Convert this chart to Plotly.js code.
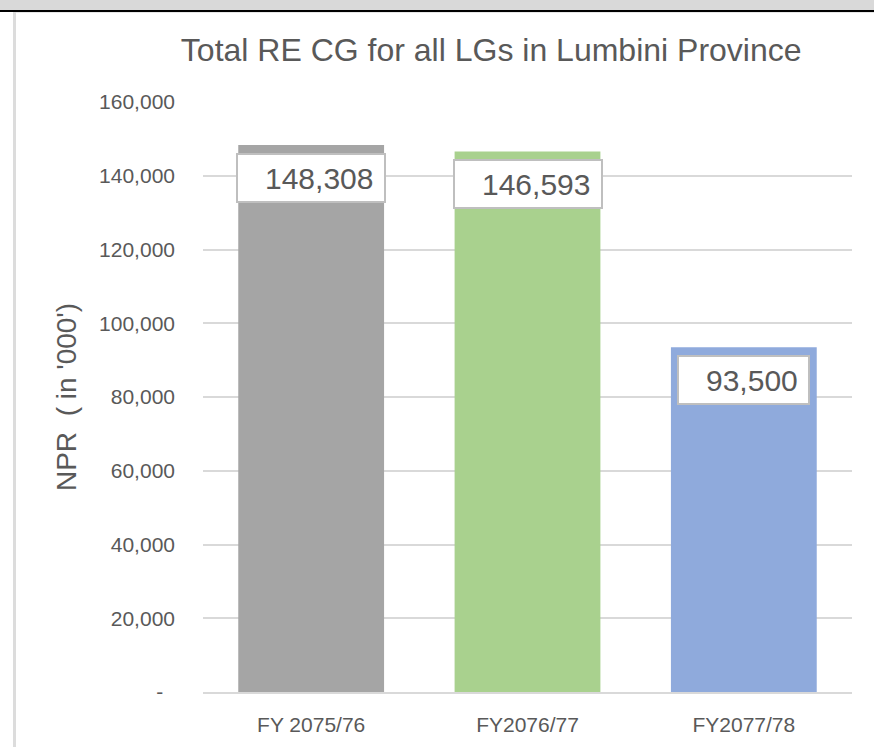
<!DOCTYPE html>
<html>
<head>
<meta charset="utf-8">
<script src="https://cdn.plot.ly/plotly-3.0.1.min.js"></script>
<style>
  html, body { margin: 0; padding: 0; background: #fff; }
  #wrap { position: relative; width: 874px; height: 747px; overflow: hidden; }
  #chart { position: absolute; left: 0; top: 0; width: 874px; height: 747px; }
  .band { position: absolute; left: 0; top: 0; width: 874px; height: 10px; background: #d9d9d9; }
  .rule { position: absolute; left: 0; top: 10px; width: 874px; height: 2px; background: #000; }
  .side { position: absolute; left: 13px; top: 12px; width: 3px; height: 735px; background: #dcdcdc; }
  .inner { position: absolute; left: 16px; top: 12px; width: 858px; height: 1px; background: #e6e6e6; }
</style>
</head>
<body>
<div id="wrap">
  <div id="chart"></div>
  <div class="band"></div>
  <div class="rule"></div>
  <div class="side"></div>
  <div class="inner"></div>
</div>
<script>
var years = ["FY 2075/76", "FY2076/77", "FY2077/78"];
var totals = [148308, 146593, 93500];
var barColors = ["#a5a5a5", "#a9d18e", "#8faadc"];
var tickVals = [0, 20000, 40000, 60000, 80000, 100000, 120000, 140000, 160000];
var tickText = ["-\u00a0\u00a0", "20,000", "40,000", "60,000", "80,000", "100,000", "120,000", "140,000", "160,000"];

var trace = {
    x: years,
    y: totals,
    type: "bar",
    marker: {color: barColors},
    hoverinfo: "none"
};

var labels = years.map(function (yr, i) {
    return {
        x: yr,
        y: totals[i],
        xref: "x",
        yref: "y",
        text: "\u00a0\u00a0\u00a0" + totals[i].toLocaleString("en-US") + "\u00a0",
        showarrow: false,
        yanchor: "top",
        yshift: -8,
        height: 42,
        bgcolor: "#ffffff",
        bordercolor: "#bfbfbf",
        borderwidth: 2,
        borderpad: 2,
        font: {family: "Liberation Sans, Arial, sans-serif", size: 30, color: "#595959"}
    };
});

var layout = {
    width: 874,
    height: 747,
    margin: {l: 203, r: 22, t: 102, b: 55},
    paper_bgcolor: "rgba(0,0,0,0)",
    plot_bgcolor: "#ffffff",
    showlegend: false,
    bargap: 0.326,
    title: {
        text: "Total RE CG for all LGs in Lumbini Province",
        font: {family: "Liberation Sans, Arial, sans-serif", size: 32, color: "#595959"},
        xref: "container",
        yref: "container",
        x: 0.562,
        xanchor: "center",
        y: 0.933,
        yanchor: "middle"
    },
    xaxis: {
        showgrid: false,
        showline: true,
        linecolor: "#d9d9d9",
        linewidth: 2,
        ticks: "",
        ticklabelstandoff: 13,
        tickfont: {family: "Liberation Sans, Arial, sans-serif", size: 21, color: "#595959"}
    },
    yaxis: {
        range: [0, 160000],
        tickvals: tickVals,
        ticktext: tickText,
        showgrid: true,
        gridcolor: "#d9d9d9",
        gridwidth: 2,
        zeroline: false,
        showline: false,
        ticks: "",
        ticklabelstandoff: 27,
        tickfont: {family: "Liberation Sans, Arial, sans-serif", size: 21, color: "#595959"},
        title: {
            text: "NPR\u00a0\u00a0(\u00a0in\u00a0'000')",
            standoff: 14,
            font: {family: "Liberation Sans, Arial, sans-serif", size: 28, color: "#595959"}
        }
    },
    annotations: labels
};

Plotly.newPlot("chart", [trace], layout, {displayModeBar: false, staticPlot: true});
</script>
</body>
</html>
